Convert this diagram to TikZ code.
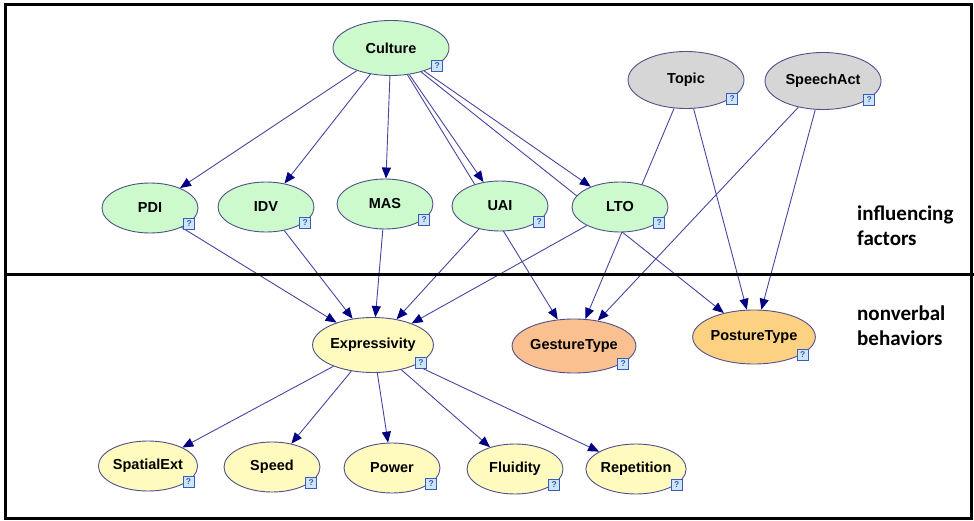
\documentclass[tikz,border=0pt]{standalone}
\usepackage{fontspec}
\setmainfont{Liberation Sans}
\newfontfamily\sidefont{Carlito}
\usetikzlibrary{arrows.meta,shapes.geometric,backgrounds}
\definecolor{nodeborder}{RGB}{80,80,140}
\definecolor{edgeblue}{RGB}{70,70,160}
\definecolor{tipnavy}{RGB}{0,0,130}
\definecolor{factorgreen}{RGB}{204,250,204}
\definecolor{contextgray}{RGB}{214,214,214}
\definecolor{behavyellow}{RGB}{255,250,190}
\definecolor{gestureorange}{RGB}{250,192,143}
\definecolor{postureorange}{RGB}{252,210,130}
\definecolor{qfill}{RGB}{205,230,245}
\definecolor{qdraw}{RGB}{60,90,190}
\tikzset{
  bnode/.style={ellipse,draw=nodeborder,line width=0.9pt,inner sep=0pt,
    font=\fontsize{14.5}{17}\selectfont\bfseries,text=black},
  factor/.style={bnode,fill=factorgreen,minimum width=96pt,minimum height=50pt},
  context/.style={bnode,fill=contextgray,minimum width=116pt,minimum height=57pt},
  behavior/.style={bnode,fill=behavyellow,minimum width=96pt,minimum height=50pt},
  link/.style={draw=edgeblue,line width=0.9pt,
    -{Triangle[length=11pt,width=9pt,color=tipnavy]}},
  qmark/.style={draw=qdraw,fill=qfill,line width=0.7pt,minimum size=11pt,
    inner sep=0pt,font=\fontsize{8.5}{8.5}\selectfont\bfseries,text=qdraw},
  sidelabel/.style={font=\sidefont\fontsize{21}{25}\selectfont\bfseries,
    align=left,inner sep=0pt,anchor=west},
  frameline/.style={line width=3pt,draw=black},
}
\begin{document}
\begin{tikzpicture}[x=1pt,y=-1pt]
\useasboundingbox (0,0) rectangle (974,521);
\draw[frameline] (5,5) rectangle (971,518);
\coordinate (divleft) at (5,275);
\coordinate (divright) at (974,275);
\draw[frameline] (divleft) -- (divright);

% influencing factors
\node[bnode,fill=factorgreen,minimum width=116pt,minimum height=55pt]
  (culture) at (391,48) {Culture};
\node[context] (topic) at (686,80) {Topic};
\node[context] (speechact) at (823,81) {SpeechAct};
\node[factor] (pdi) at (150,208) {PDI};
\node[factor] (idv) at (266,207) {IDV};
\node[factor] (mas) at (385,204) {MAS};
\node[factor] (uai) at (500,206) {UAI};
\node[factor] (lto) at (620,207) {LTO};

% nonverbal behaviors
\node[behavior,minimum width=110pt,minimum height=55pt]
  (expressivity) at (373,345) {Expressivity};
\node[bnode,fill=gestureorange,minimum width=112pt,minimum height=54pt]
  (gesturetype) at (574,346) {GestureType};
\node[bnode,fill=postureorange,minimum width=110pt,minimum height=54pt]
  (posturetype) at (754,337) {PostureType};
\node[behavior] (spatialext) at (148,466) {SpatialExt};
\node[behavior] (speed) at (272,467) {Speed};
\node[behavior] (power) at (392,468) {Power};
\node[behavior] (fluidity) at (515,469) {Fluidity};
\node[behavior] (repetition) at (636,469) {Repetition};

\foreach \n in {culture,topic,speechact,pdi,idv,mas,uai,lto,expressivity,
    gesturetype,posturetype,spatialext,speed,power,fluidity,repetition}
  \node[qmark] (\n-q) at ([shift={(5,-2)}]\n.south east) {?};

\node[sidelabel] (influencing) at (857,226) {influencing\\factors};
\node[sidelabel] (nonverbal) at (857,326) {nonverbal\\behaviors};

\begin{scope}[on background layer]
\foreach \s/\t in {culture/pdi,culture/idv,culture/mas,culture/uai,culture/lto,
    culture/gesturetype,culture/posturetype,
    topic/gesturetype,topic/posturetype,
    speechact/gesturetype,speechact/posturetype,
    pdi/expressivity,idv/expressivity,mas/expressivity,uai/expressivity,
    lto/expressivity,
    expressivity/spatialext,expressivity/speed,expressivity/power,
    expressivity/fluidity,expressivity/repetition}
  \draw[link] (\s) -- (\t);
\end{scope}
\end{tikzpicture}
\end{document}
